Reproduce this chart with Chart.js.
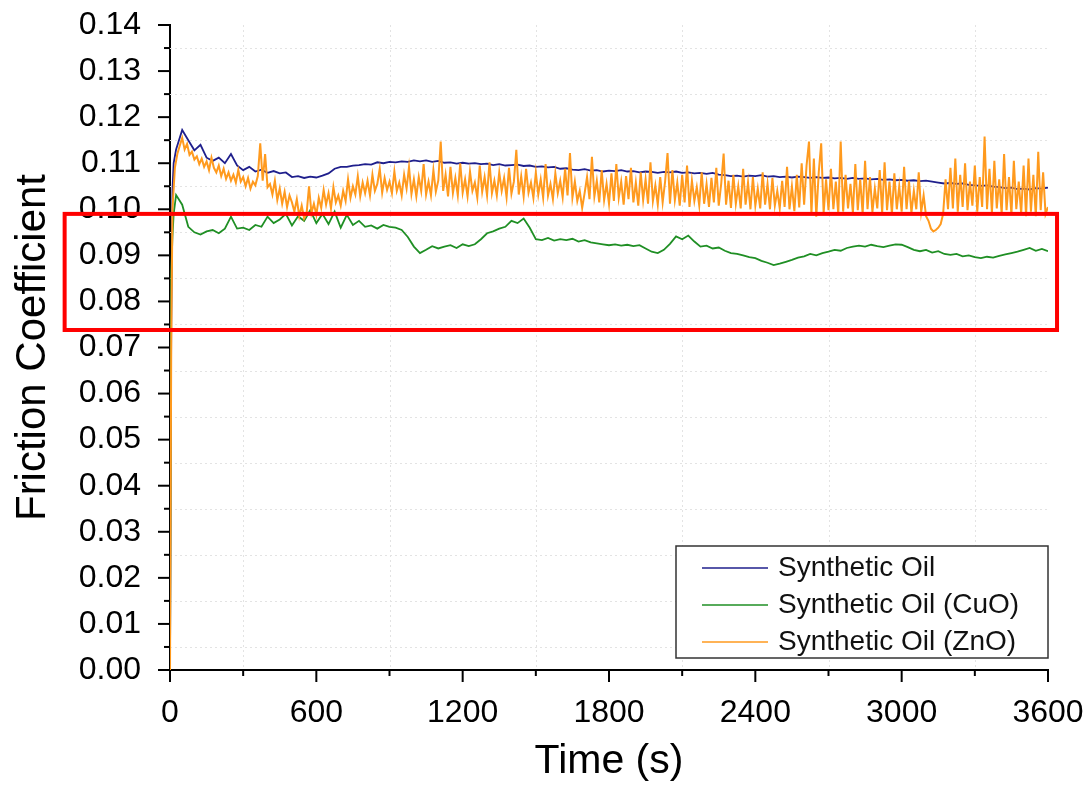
<!DOCTYPE html>
<html>
<head>
<meta charset="utf-8">
<title>Friction Coefficient vs Time</title>
<script src="https://cdn.jsdelivr.net/npm/chart.js@4/dist/chart.umd.min.js"></script>
<style>
    html, body { margin: 0; padding: 0; background: #fff; }
    #wrap { width: 1089px; height: 786px; }
</style>
</head>
<body>
<div id="wrap"><canvas id="frictionChart" width="1089" height="786"></canvas></div>
<script>
// Sampled off the figure: a few points during run-in, then every 25 s.
const timeSec = [
    0, 5, 10, 15,
    25, 50, 75, 100, 125, 150, 175, 200,
    225, 250, 275, 300, 325, 350, 375, 400,
    425, 450, 475, 500, 525, 550, 575, 600,
    625, 650, 675, 700, 725, 750, 775, 800,
    825, 850, 875, 900, 925, 950, 975, 1000,
    1025, 1050, 1075, 1100, 1125, 1150, 1175, 1200,
    1225, 1250, 1275, 1300, 1325, 1350, 1375, 1400,
    1425, 1450, 1475, 1500, 1525, 1550, 1575, 1600,
    1625, 1650, 1675, 1700, 1725, 1750, 1775, 1800,
    1825, 1850, 1875, 1900, 1925, 1950, 1975, 2000,
    2025, 2050, 2075, 2100, 2125, 2150, 2175, 2200,
    2225, 2250, 2275, 2300, 2325, 2350, 2375, 2400,
    2425, 2450, 2475, 2500, 2525, 2550, 2575, 2600,
    2625, 2650, 2675, 2700, 2725, 2750, 2775, 2800,
    2825, 2850, 2875, 2900, 2925, 2950, 2975, 3000,
    3025, 3050, 3075, 3100, 3125, 3150, 3175, 3200,
    3225, 3250, 3275, 3300, 3325, 3350, 3375, 3400,
    3425, 3450, 3475, 3500, 3525, 3550, 3575, 3600
];

const timeSecZnO = [
    0, 5,
    10, 20, 30, 40, 50, 60, 70, 80, 90, 100,
    110, 120, 130, 140, 150, 160, 170, 180, 190, 200,
    210, 220, 230, 240, 250, 260, 270, 280, 290, 300,
    310, 320, 330, 340, 350, 360, 370, 380, 390, 400,
    410, 420, 430, 440, 450, 460, 470, 480, 490, 500,
    510, 520, 530, 540, 550, 560, 570, 580, 590, 600,
    610, 620, 630, 640, 650, 660, 670, 680, 690, 700,
    710, 720, 730, 740, 750, 760, 770, 780, 790, 800,
    810, 820, 830, 840, 850, 860, 870, 880, 890, 900,
    910, 920, 930, 940, 950, 960, 970, 980, 990, 1000,
    1010, 1020, 1030, 1040, 1050, 1060, 1070, 1080, 1090, 1100,
    1110, 1120, 1130, 1140, 1150, 1160, 1170, 1180, 1190, 1200,
    1210, 1220, 1230, 1240, 1250, 1260, 1270, 1280, 1290, 1300,
    1310, 1320, 1330, 1340, 1350, 1360, 1370, 1380, 1390, 1400,
    1410, 1420, 1430, 1440, 1450, 1460, 1470, 1480, 1490, 1500,
    1510, 1520, 1530, 1540, 1550, 1560, 1570, 1580, 1590, 1600,
    1610, 1620, 1630, 1640, 1650, 1660, 1670, 1680, 1690, 1700,
    1710, 1720, 1730, 1740, 1750, 1760, 1770, 1780, 1790, 1800,
    1810, 1820, 1830, 1840, 1850, 1860, 1870, 1880, 1890, 1900,
    1910, 1920, 1930, 1940, 1950, 1960, 1970, 1980, 1990, 2000,
    2010, 2020, 2030, 2040, 2050, 2060, 2070, 2080, 2090, 2100,
    2110, 2120, 2130, 2140, 2150, 2160, 2170, 2180, 2190, 2200,
    2210, 2220, 2230, 2240, 2250, 2260, 2270, 2280, 2290, 2300,
    2310, 2320, 2330, 2340, 2350, 2360, 2370, 2380, 2390, 2400,
    2410, 2420, 2430, 2440, 2450, 2460, 2470, 2480, 2490, 2500,
    2510, 2520, 2530, 2540, 2550, 2560, 2570, 2580, 2590, 2600,
    2610, 2620, 2630, 2640, 2650, 2660, 2670, 2680, 2690, 2700,
    2710, 2720, 2730, 2740, 2750, 2760, 2770, 2780, 2790, 2800,
    2810, 2820, 2830, 2840, 2850, 2860, 2870, 2880, 2890, 2900,
    2910, 2920, 2930, 2940, 2950, 2960, 2970, 2980, 2990, 3000,
    3010, 3020, 3030, 3040, 3050, 3060, 3070, 3080, 3090, 3100,
    3110, 3120, 3130, 3140, 3150, 3160, 3170, 3180, 3190, 3200,
    3210, 3220, 3230, 3240, 3250, 3260, 3270, 3280, 3290, 3300,
    3310, 3320, 3330, 3340, 3350, 3360, 3370, 3380, 3390, 3400,
    3410, 3420, 3430, 3440, 3450, 3460, 3470, 3480, 3490, 3500,
    3510, 3520, 3530, 3540, 3550, 3560, 3570, 3580, 3590, 3600
];

const syntheticOil = [
    0.0000, 0.0750, 0.1040, 0.1100,
    0.1130, 0.1172, 0.1150, 0.1128, 0.1140, 0.1112, 0.1105, 0.1112,
    0.1100, 0.1120, 0.1095, 0.1085, 0.1092, 0.1082, 0.1086, 0.1079,
    0.1083, 0.1078, 0.1080, 0.1070, 0.1072, 0.1068, 0.1071, 0.1069,
    0.1073, 0.1078, 0.1088, 0.1092, 0.1092, 0.1095, 0.1096, 0.1098,
    0.1097, 0.1102, 0.1100, 0.1103, 0.1102, 0.1104, 0.1103, 0.1106,
    0.1104, 0.1106, 0.1103, 0.1105, 0.1101, 0.1102, 0.1099, 0.1101,
    0.1099, 0.1100, 0.1098, 0.1099, 0.1096, 0.1098, 0.1095, 0.1096,
    0.1097, 0.1094, 0.1095, 0.1092, 0.1093, 0.1091, 0.1092, 0.1088,
    0.1089, 0.1086, 0.1085, 0.1087, 0.1084, 0.1085, 0.1082, 0.1084,
    0.1083, 0.1085, 0.1082, 0.1083, 0.1080, 0.1082, 0.1081, 0.1079,
    0.1081, 0.1080, 0.1082, 0.1079, 0.1080, 0.1078, 0.1079, 0.1077,
    0.1079, 0.1075, 0.1074, 0.1072, 0.1073, 0.1071, 0.1073, 0.1072,
    0.1074, 0.1071, 0.1072, 0.1070, 0.1071, 0.1069, 0.1071, 0.1070,
    0.1068, 0.1070, 0.1068, 0.1069, 0.1067, 0.1068, 0.1066, 0.1068,
    0.1066, 0.1067, 0.1065, 0.1066, 0.1064, 0.1065, 0.1063, 0.1064,
    0.1062, 0.1063, 0.1061, 0.1062, 0.1060, 0.1058, 0.1056, 0.1057,
    0.1055, 0.1056, 0.1053, 0.1052, 0.1051, 0.1052, 0.1049, 0.1048,
    0.1046, 0.1047, 0.1044, 0.1045, 0.1043, 0.1046, 0.1045, 0.1047
];

const syntheticOilCuO = [
    0.0000, 0.0860, 0.0940, 0.0990,
    0.1031, 0.1010, 0.0962, 0.0950, 0.0945, 0.0952, 0.0955, 0.0948,
    0.0958, 0.0984, 0.0958, 0.0960, 0.0955, 0.0966, 0.0962, 0.0984,
    0.0970, 0.0978, 0.0990, 0.0965, 0.0985, 0.0975, 0.0998, 0.0970,
    0.0990, 0.0968, 0.0995, 0.0960, 0.0988, 0.0966, 0.0975, 0.0962,
    0.0965, 0.0958, 0.0966, 0.0962, 0.0960, 0.0955, 0.0940, 0.0919,
    0.0905, 0.0912, 0.0920, 0.0915, 0.0919, 0.0922, 0.0916, 0.0924,
    0.0920, 0.0924, 0.0935, 0.0948, 0.0952, 0.0958, 0.0962, 0.0975,
    0.0970, 0.0980, 0.0960, 0.0935, 0.0933, 0.0938, 0.0932, 0.0935,
    0.0933, 0.0936, 0.0930, 0.0933, 0.0928, 0.0926, 0.0924, 0.0922,
    0.0924, 0.0921, 0.0923, 0.0920, 0.0922, 0.0915, 0.0908, 0.0905,
    0.0912, 0.0925, 0.0941, 0.0935, 0.0943, 0.0930, 0.0919, 0.0921,
    0.0915, 0.0917, 0.0910, 0.0905, 0.0903, 0.0900, 0.0896, 0.0894,
    0.0888, 0.0884, 0.0879, 0.0882, 0.0886, 0.0890, 0.0895, 0.0898,
    0.0903, 0.0900, 0.0905, 0.0908, 0.0912, 0.0910, 0.0916, 0.0919,
    0.0921, 0.0919, 0.0923, 0.0920, 0.0918, 0.0921, 0.0924, 0.0923,
    0.0918, 0.0912, 0.0909, 0.0912, 0.0906, 0.0909, 0.0903, 0.0901,
    0.0903, 0.0898, 0.0900, 0.0896, 0.0894, 0.0897, 0.0895, 0.0899,
    0.0902, 0.0905, 0.0908, 0.0912, 0.0916, 0.0910, 0.0914, 0.0909
];

const syntheticOilZnO = [
    0.0000, 0.0700,
    0.1000, 0.1090, 0.1120, 0.1138, 0.1155, 0.1130, 0.1142, 0.1118, 0.1125, 0.1108,
    0.1115, 0.1098, 0.1110, 0.1092, 0.1104, 0.1085, 0.1112, 0.1090, 0.1080, 0.1095,
    0.1072, 0.1088, 0.1066, 0.1080, 0.1062, 0.1075, 0.1058, 0.1085, 0.1060, 0.1070,
    0.1050, 0.1068, 0.1045, 0.1060, 0.1052, 0.1072, 0.1143, 0.1062, 0.1120, 0.1048,
    0.1055, 0.1032, 0.1062, 0.1020, 0.1045, 0.1012, 0.1038, 0.1005, 0.1030, 0.1015,
    0.0995, 0.1022, 0.0985, 0.1008, 0.0980, 0.0990, 0.1050, 0.0992, 0.1012, 0.0988,
    0.1025, 0.1003, 0.1042, 0.1010, 0.1035, 0.1002, 0.1048, 0.1015, 0.1030, 0.1008,
    0.1040, 0.1018, 0.1065, 0.1025, 0.1050, 0.1032, 0.1072, 0.1028, 0.1058, 0.1035,
    0.1062, 0.1030, 0.1075, 0.1040, 0.1055, 0.1088, 0.1036, 0.1068, 0.1042, 0.1060,
    0.1035, 0.1082, 0.1040, 0.1058, 0.1030, 0.1075, 0.1045, 0.1092, 0.1033, 0.1065,
    0.1028, 0.1070, 0.1040, 0.1098, 0.1032, 0.1060, 0.1030, 0.1085, 0.1038, 0.1062,
    0.1147, 0.1040, 0.1075, 0.1028, 0.1092, 0.1035, 0.1068, 0.1030, 0.1100, 0.1036,
    0.1065, 0.1028, 0.1082, 0.1040, 0.1058, 0.1025, 0.1095, 0.1038, 0.1070, 0.1030,
    0.1102, 0.1035, 0.1062, 0.1030, 0.1080, 0.1040, 0.1068, 0.1026, 0.1090, 0.1034,
    0.1060, 0.1129, 0.1032, 0.1072, 0.1028, 0.1088, 0.1036, 0.1058, 0.1025, 0.1080,
    0.1032, 0.1065, 0.1025, 0.1098, 0.1030, 0.1055, 0.1022, 0.1078, 0.1035, 0.1062,
    0.1026, 0.1088, 0.1030, 0.1122, 0.1025, 0.1060, 0.1018, 0.1040, 0.1003, 0.1035,
    0.1070, 0.1022, 0.1114, 0.1028, 0.1062, 0.1015, 0.1085, 0.1020, 0.1055, 0.1012,
    0.1078, 0.1018, 0.1098, 0.1025, 0.1060, 0.1010, 0.1072, 0.1022, 0.1090, 0.1015,
    0.1058, 0.1008, 0.1080, 0.1020, 0.1065, 0.1012, 0.1102, 0.1018, 0.1052, 0.1010,
    0.1070, 0.1015, 0.1060, 0.1122, 0.1012, 0.1085, 0.1020, 0.1058, 0.1008, 0.1075,
    0.1015, 0.1095, 0.1005, 0.1062, 0.1018, 0.1048, 0.1008, 0.1080, 0.1012, 0.1055,
    0.1005, 0.1068, 0.1015, 0.1090, 0.1008, 0.1055, 0.1121, 0.1010, 0.1062, 0.1003,
    0.1075, 0.1012, 0.1050, 0.1002, 0.1088, 0.1010, 0.1058, 0.1000, 0.1070, 0.1008,
    0.1045, 0.1002, 0.1080, 0.1010, 0.1055, 0.1000, 0.1068, 0.1008, 0.1040, 0.1002,
    0.1062, 0.1005, 0.1092, 0.1000, 0.1050, 0.0996, 0.1075, 0.1004, 0.1100, 0.1010,
    0.1095, 0.1147, 0.0990, 0.1110, 0.0984, 0.1080, 0.1143, 0.0992, 0.1065, 0.0998,
    0.1088, 0.1000, 0.1060, 0.0990, 0.1147, 0.0995, 0.1075, 0.1002, 0.1055, 0.0992,
    0.1098, 0.0998, 0.1065, 0.0990, 0.1105, 0.1000, 0.1070, 0.0994, 0.1045, 0.1002,
    0.1085, 0.0992, 0.1102, 0.0998, 0.1060, 0.0990, 0.1078, 0.1000, 0.1050, 0.0995,
    0.1092, 0.1000, 0.1062, 0.0992, 0.1040, 0.1000, 0.1080, 0.0994, 0.1030, 0.0985,
    0.0975, 0.0958, 0.0952, 0.0955, 0.0960, 0.0968, 0.0990, 0.1065, 0.1000, 0.1090,
    0.1002, 0.1110, 0.0995, 0.1075, 0.1005, 0.1100, 0.0998, 0.1060, 0.1008, 0.1095,
    0.0995, 0.1070, 0.1005, 0.1158, 0.1000, 0.1088, 0.0992, 0.1105, 0.1002, 0.1065,
    0.0990, 0.1120, 0.0998, 0.1070, 0.0988, 0.1105, 0.1000, 0.1060, 0.0990, 0.1095,
    0.0985, 0.1110, 0.0995, 0.1075, 0.0985, 0.1125, 0.0998, 0.1080, 0.0990, 0.1005
];

const seriesLabels = ['Synthetic Oil', 'Synthetic Oil (CuO)', 'Synthetic Oil (ZnO)'];
const seriesColors = ['#1f1f8c', '#1f8f24', '#ff9a1e'];

(function () {
    'use strict';

    const FONT = "'Liberation Sans', Arial, sans-serif";

    // red highlight box, in data units (it runs out over the y labels on the left)
    const highlight = { tFrom: -432, tTo: 3637, muLow: 0.0738, muHigh: 0.0990 };

    function toPoints(times, values) {
        return values.map(function (v, i) {
            return { x: times[i], y: v };
        });
    }

    // Origin-style axes: major + half-step minor ticks pointing outward, dotted minor grid.
    const axisDecor = {
        id: 'axisDecor',
        beforeDatasetsDraw: function (chart) {
            const ctx = chart.ctx;
            const area = chart.chartArea;
            const xs = chart.scales.x;
            const ys = chart.scales.y;
            ctx.save();
            ctx.strokeStyle = '#e3e3e3';
            ctx.lineWidth = 1;
            ctx.setLineDash([2, 3]);
            for (let t = 300; t < 3600; t += 600) {
                const px = Math.round(xs.getPixelForValue(t)) + 0.5;
                ctx.beginPath();
                ctx.moveTo(px, area.top);
                ctx.lineTo(px, area.bottom);
                ctx.stroke();
            }
            for (let k = 1; k < 28; k += 2) {
                const py = Math.round(ys.getPixelForValue(k * 0.005)) + 0.5;
                ctx.beginPath();
                ctx.moveTo(area.left, py);
                ctx.lineTo(area.right, py);
                ctx.stroke();
            }
            ctx.restore();
        },
        afterDraw: function (chart) {
            const ctx = chart.ctx;
            const area = chart.chartArea;
            const xs = chart.scales.x;
            const ys = chart.scales.y;
            ctx.save();
            ctx.strokeStyle = '#000';
            ctx.lineWidth = 2;
            for (let t = 0; t <= 3600; t += 300) {
                const px = xs.getPixelForValue(t);
                const len = t % 600 === 0 ? 12 : 6;
                ctx.beginPath();
                ctx.moveTo(px, area.bottom);
                ctx.lineTo(px, area.bottom + len);
                ctx.stroke();
            }
            for (let k = 0; k <= 28; k++) {
                const py = ys.getPixelForValue(k * 0.005);
                const len = k % 2 === 0 ? 12 : 6;
                ctx.beginPath();
                ctx.moveTo(area.left, py);
                ctx.lineTo(area.left - len, py);
                ctx.stroke();
            }
            ctx.restore();
        }
    };

    // boxed legend sitting in the lower right corner of the plot
    const boxLegend = {
        id: 'boxLegend',
        afterDraw: function (chart) {
            const ctx = chart.ctx;
            const area = chart.chartArea;
            const w = 372, h = 112;
            const left = area.right - w;
            const top = area.bottom - 12 - h;
            ctx.save();
            ctx.fillStyle = '#fff';
            ctx.fillRect(left, top, w, h);
            ctx.strokeStyle = '#333';
            ctx.lineWidth = 1.5;
            ctx.strokeRect(left, top, w, h);
            ctx.font = '28px ' + FONT;
            ctx.textBaseline = 'middle';
            chart.data.datasets.forEach(function (ds, i) {
                const y = top + 22 + i * 37;
                ctx.strokeStyle = ds.borderColor;
                ctx.lineWidth = 1.5;
                ctx.beginPath();
                ctx.moveTo(left + 26, y);
                ctx.lineTo(left + 92, y);
                ctx.stroke();
                ctx.fillStyle = '#111';
                ctx.fillText(ds.label, left + 102, y);
            });
            ctx.restore();
        }
    };

    const highlightBox = {
        id: 'highlightBox',
        afterDraw: function (chart) {
            const ctx = chart.ctx;
            const xs = chart.scales.x;
            const ys = chart.scales.y;
            const x0 = xs.getPixelForValue(highlight.tFrom);
            const x1 = xs.getPixelForValue(highlight.tTo);
            const y0 = ys.getPixelForValue(highlight.muHigh);
            const y1 = ys.getPixelForValue(highlight.muLow);
            ctx.save();
            ctx.strokeStyle = '#ff0000';
            ctx.lineWidth = 4;
            ctx.strokeRect(x0, y0, x1 - x0, y1 - y0);
            ctx.restore();
        }
    };

    const series = [
        toPoints(timeSec, syntheticOil),
        toPoints(timeSec, syntheticOilCuO),
        toPoints(timeSecZnO, syntheticOilZnO)
    ];
    // ZnO is drawn on top, as in the original plot
    const drawOrder = [3, 2, 1];
    const lineWidths = [1.8, 1.8, 2];

    // keep the plot box fixed: no extra room reserved for overhanging tick labels
    function noLabelPadding(scale) {
        scale.paddingLeft = 0;
        scale.paddingRight = 0;
        scale.paddingTop = 0;
        scale.paddingBottom = 0;
    }

    new Chart(document.getElementById('frictionChart'), {
        type: 'line',
        data: {
            datasets: series.map(function (points, i) {
                return {
                    label: seriesLabels[i],
                    data: points,
                    borderColor: seriesColors[i],
                    borderWidth: lineWidths[i],
                    pointRadius: 0,
                    tension: 0,
                    order: drawOrder[i]
                };
            })
        },
        options: {
            responsive: false,
            animation: false,
            parsing: false,
            layout: { padding: { top: 25, right: 41, left: 0, bottom: 0 } },
            plugins: {
                legend: { display: false },
                tooltip: { enabled: false }
            },
            scales: {
                x: {
                    type: 'linear',
                    min: 0,
                    max: 3600,
                    afterFit: function (scale) {
                        scale.height = 116;
                        noLabelPadding(scale);
                    },
                    grid: { display: false },
                    border: { color: '#000', width: 2 },
                    ticks: {
                        stepSize: 600,
                        padding: 16,
                        color: '#000',
                        font: { family: FONT, size: 32 },
                        maxRotation: 0,
                        callback: function (v) { return String(v); }
                    },
                    title: {
                        display: true,
                        text: 'Time (s)',
                        color: '#000',
                        font: { family: FONT, size: 41 },
                        padding: { top: 0, bottom: 0 }
                    }
                },
                y: {
                    min: 0,
                    max: 0.14,
                    afterFit: function (scale) {
                        scale.width = 170;
                        noLabelPadding(scale);
                    },
                    grid: { display: false },
                    border: { color: '#000', width: 2 },
                    ticks: {
                        stepSize: 0.01,
                        padding: 21,
                        color: '#000',
                        font: { family: FONT, size: 32 },
                        callback: function (v) { return v.toFixed(2); }
                    },
                    title: {
                        display: true,
                        text: 'Friction Coefficient',
                        color: '#000',
                        font: { family: FONT, size: 42 },
                        padding: { top: 8, bottom: 0 }
                    }
                }
            }
        },
        plugins: [axisDecor, boxLegend, highlightBox]
    });
})();
</script>
</body>
</html>
